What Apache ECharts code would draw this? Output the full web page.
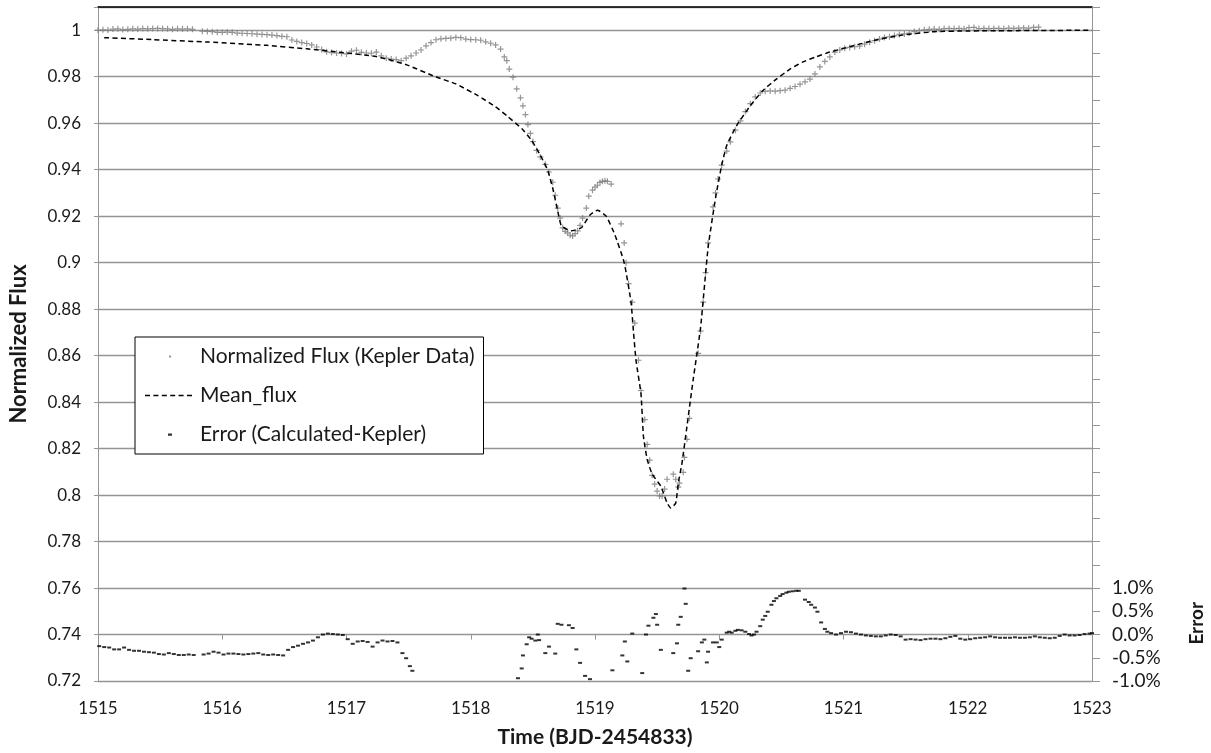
<!DOCTYPE html>
<html>
<head>
<meta charset="utf-8">
<script src="https://cdn.jsdelivr.net/npm/echarts@6/dist/echarts.min.js"></script>
<style>html,body{margin:0;padding:0;background:#fff}#c{width:1211px;height:753px}</style>
</head>
<body>
<div id="c"></div>
<script>
// ---- data ----
const xTicks = [1515, 1523, 1];          // min, max, step of time axis
const fluxTicks = [0.72, 1.01, 0.02];    // left axis range
const errTicks = [-1, 13.5, 0.5];        // right axis range (percent)

// Normalized Flux (Kepler Data): [time, flux]
const keplerFlux = [
[1515.00,1.0001],[1515.04,1.0002],[1515.08,1.0001],[1515.12,1.0005],[1515.16,1.0006],[1515.20,1.0003],
[1515.24,1.0004],[1515.28,1.0006],[1515.32,1.0005],[1515.36,1.0007],[1515.40,1.0006],[1515.44,1.0007],
[1515.48,1.0008],[1515.52,1.0007],[1515.56,1.0006],[1515.60,1.0004],[1515.64,1.0006],[1515.68,1.0005],
[1515.72,1.0006],[1515.76,1.0004],[1515.84,0.9996],[1515.88,0.9995],[1515.92,0.9994],[1515.96,0.9991],
[1516.00,0.9991],[1516.04,0.9992],[1516.08,0.9991],[1516.12,0.9988],[1516.16,0.9987],[1516.20,0.9986],
[1516.24,0.9985],[1516.28,0.9983],[1516.32,0.9982],[1516.36,0.9981],[1516.40,0.9979],[1516.44,0.9977],
[1516.48,0.9974],[1516.52,0.9972],[1516.56,0.9958],[1516.60,0.9952],[1516.64,0.9947],[1516.68,0.9943],
[1516.72,0.9937],[1516.76,0.9928],[1516.80,0.9917],[1516.84,0.9907],[1516.88,0.9904],[1516.92,0.9902],
[1516.96,0.9900],[1517.00,0.9898],[1517.04,0.9910],[1517.08,0.9914],[1517.12,0.9905],[1517.16,0.9902],
[1517.20,0.9901],[1517.24,0.9906],[1517.28,0.9890],[1517.32,0.9880],[1517.36,0.9876],[1517.40,0.9874],
[1517.44,0.9869],[1517.48,0.9880],[1517.52,0.9890],[1517.56,0.9902],[1517.60,0.9915],[1517.64,0.9933],
[1517.68,0.9947],[1517.72,0.9959],[1517.76,0.9963],[1517.80,0.9965],[1517.84,0.9966],[1517.88,0.9969],
[1517.92,0.9968],[1517.96,0.9962],[1518.00,0.9960],[1518.04,0.9959],[1518.08,0.9957],[1518.12,0.9950],
[1518.16,0.9944],[1518.20,0.9937],[1518.24,0.9919],[1518.27,0.9885],[1518.29,0.9869],[1518.31,0.9833],
[1518.34,0.9798],[1518.37,0.9748],[1518.40,0.9709],[1518.42,0.9675],[1518.44,0.9637],[1518.46,0.9594],
[1518.48,0.9556],[1518.50,0.9521],[1518.53,0.9483],[1518.56,0.9455],[1518.60,0.9423],[1518.63,0.9390],
[1518.66,0.9346],[1518.68,0.9290],[1518.70,0.9235],[1518.72,0.9192],[1518.74,0.9150],[1518.76,0.9135],
[1518.78,0.9128],[1518.80,0.9118],[1518.82,0.9115],[1518.84,0.9125],[1518.86,0.9137],[1518.88,0.9160],
[1518.90,0.9192],[1518.93,0.9235],[1518.95,0.9286],[1518.98,0.9312],[1519.00,0.9325],[1519.02,0.9333],
[1519.04,0.9345],[1519.06,0.9350],[1519.08,0.9352],[1519.10,0.9350],[1519.13,0.9338],
[1519.21,0.9167],[1519.235,0.9085],[1519.25,0.9000],[1519.27,0.8910],[1519.30,0.8830],[1519.32,0.8740],
[1519.35,0.8580],[1519.37,0.8450],[1519.40,0.8325],[1519.42,0.8218],[1519.44,0.8150],[1519.46,0.8085],
[1519.48,0.8047],[1519.50,0.8017],[1519.52,0.7996],[1519.54,0.7996],[1519.56,0.8026],[1519.58,0.8068],
[1519.63,0.8090],[1519.65,0.8068],[1519.67,0.8034],[1519.68,0.8051],[1519.71,0.8098],[1519.72,0.8162],
[1519.74,0.8240],[1519.76,0.8330],[1519.83,0.8610],[1519.85,0.8705],[1519.87,0.8830],[1519.89,0.8957],
[1519.91,0.9085],[1519.95,0.9240],[1519.97,0.9300],[1519.99,0.9360],[1520.02,0.9420],[1520.06,0.9480],
[1520.09,0.9520],[1520.13,0.9570],[1520.17,0.9610],[1520.21,0.9650],[1520.25,0.9684],[1520.29,0.9713],
[1520.33,0.9730],[1520.37,0.9737],[1520.41,0.9739],[1520.45,0.9738],[1520.49,0.9740],[1520.53,0.9742],
[1520.57,0.9750],[1520.61,0.9758],[1520.65,0.9768],[1520.69,0.9778],[1520.73,0.9790],[1520.77,0.9812],
[1520.81,0.9842],[1520.85,0.9866],[1520.89,0.9885],[1520.93,0.9906],[1520.97,0.9915],[1521.01,0.9923],
[1521.05,0.9926],[1521.09,0.9929],[1521.13,0.9932],[1521.17,0.9940],[1521.21,0.9948],[1521.25,0.9955],
[1521.29,0.9962],[1521.33,0.9969],[1521.37,0.9972],[1521.41,0.9977],[1521.45,0.9982],[1521.49,0.9984],
[1521.53,0.9988],[1521.57,0.9995],[1521.61,0.9998],[1521.65,1.0002],[1521.69,1.0004],[1521.73,1.0005],
[1521.77,1.0004],[1521.81,1.0007],[1521.85,1.0008],[1521.89,1.0007],[1521.93,1.0008],[1521.97,1.0006],
[1522.01,1.0011],[1522.05,1.0012],[1522.09,1.0007],[1522.13,1.0008],[1522.17,1.0007],[1522.21,1.0008],
[1522.25,1.0008],[1522.29,1.0007],[1522.33,1.0009],[1522.37,1.0008],[1522.41,1.0009],[1522.45,1.0010],
[1522.49,1.0009],[1522.53,1.0012],[1522.57,1.0013]
];

// Mean_flux: [time, flux]
const meanFlux = [
[1515.05,0.9968],[1515.43,0.9960],[1515.89,0.9949],[1516.36,0.9935],[1516.68,0.9920],[1516.95,0.9905],
[1517.24,0.9887],[1517.48,0.9852],[1517.72,0.9799],[1517.88,0.9769],[1518.06,0.9718],[1518.20,0.9670],
[1518.30,0.9628],[1518.41,0.9577],[1518.49,0.9526],[1518.56,0.9462],[1518.62,0.9397],[1518.66,0.9320],
[1518.70,0.9222],[1518.73,0.9158],[1518.81,0.9137],[1518.89,0.9150],[1518.96,0.9205],[1519.02,0.9226],
[1519.09,0.9200],[1519.16,0.9120],[1519.235,0.9000],[1519.29,0.8830],[1519.31,0.8700],[1519.33,0.8580],
[1519.37,0.8436],[1519.39,0.8252],[1519.42,0.8154],[1519.46,0.8090],[1519.53,0.8038],[1519.58,0.7966],
[1519.61,0.7944],[1519.65,0.7966],[1519.67,0.8051],[1519.70,0.8137],[1519.74,0.8295],[1519.79,0.8496],
[1519.85,0.8722],[1519.91,0.9064],[1519.97,0.9278],[1520.02,0.9420],[1520.06,0.9504],[1520.14,0.9590],
[1520.25,0.9675],[1520.35,0.9740],[1520.46,0.9790],[1520.57,0.9833],[1520.67,0.9863],[1520.77,0.9884],
[1520.89,0.9906],[1521.07,0.9932],[1521.25,0.9957],[1521.47,0.9979],[1521.73,0.9994],[1522.00,0.9997],
[1523.00,1.0000]
];

// Error (Calculated-Kepler), percent: [time, error%]
const errorPct = [
[1515.01,-0.25],[1515.05,-0.27],[1515.09,-0.28],[1515.13,-0.32],[1515.17,-0.32],[1515.21,-0.28],
[1515.25,-0.33],[1515.29,-0.35],[1515.33,-0.35],[1515.37,-0.37],[1515.41,-0.38],[1515.45,-0.39],
[1515.49,-0.42],[1515.53,-0.43],[1515.57,-0.40],[1515.61,-0.42],[1515.65,-0.44],[1515.69,-0.44],
[1515.73,-0.43],[1515.77,-0.44],[1515.85,-0.43],[1515.89,-0.41],[1515.93,-0.37],[1515.97,-0.39],
[1516.01,-0.43],[1516.05,-0.41],[1516.09,-0.41],[1516.13,-0.42],[1516.17,-0.43],[1516.21,-0.42],
[1516.25,-0.41],[1516.29,-0.40],[1516.33,-0.43],[1516.37,-0.44],[1516.41,-0.43],[1516.45,-0.44],
[1516.49,-0.45],[1516.53,-0.33],[1516.57,-0.27],[1516.61,-0.24],[1516.65,-0.20],[1516.69,-0.17],
[1516.73,-0.13],[1516.77,-0.06],[1516.81,0.00],[1516.85,0.02],[1516.89,0.01],[1516.93,0.00],
[1516.97,-0.01],[1517.01,-0.10],[1517.05,-0.20],[1517.09,-0.15],[1517.13,-0.14],[1517.17,-0.16],
[1517.21,-0.26],[1517.25,-0.17],[1517.29,-0.13],[1517.33,-0.15],[1517.37,-0.14],[1517.41,-0.17],
[1517.45,-0.40],[1517.48,-0.51],[1517.51,-0.68],[1517.53,-0.78],
[1518.38,-0.94],[1518.41,-0.73],[1518.42,-0.45],[1518.45,-0.21],[1518.47,-0.06],[1518.49,-0.09],
[1518.52,-0.13],[1518.54,0.00],[1518.55,-0.12],[1518.60,-0.40],[1518.63,-0.26],[1518.68,-0.41],
[1518.70,0.23],[1518.73,0.21],[1518.79,0.20],[1518.82,0.14],[1518.85,-0.32],[1518.88,-0.61],
[1518.92,-0.89],[1518.96,-0.96],[1519.14,-0.77],[1519.22,-0.45],[1519.24,-0.15],[1519.26,-0.58],
[1519.30,0.02],[1519.38,-0.83],[1519.41,0.00],[1519.43,0.19],[1519.47,0.36],[1519.49,0.44],
[1519.50,0.21],[1519.53,-0.33],[1519.63,-0.40],[1519.66,-0.19],[1519.67,0.21],[1519.69,0.38],
[1519.72,0.99],[1519.73,0.66],[1519.75,-0.78],[1519.77,-0.51],[1519.83,-0.36],[1519.86,-0.17],
[1519.88,-0.11],[1519.90,-0.60],[1519.91,-0.37],[1519.95,-0.17],[1519.98,-0.17],[1520.00,-0.27],
[1520.02,-0.11],[1520.06,0.04],[1520.08,0.06],[1520.10,0.04],[1520.13,0.08],[1520.15,0.10],
[1520.18,0.09],[1520.21,0.06],[1520.24,0.01],[1520.26,-0.02],[1520.28,0.00],[1520.30,0.06],
[1520.33,0.18],[1520.35,0.32],[1520.37,0.40],[1520.39,0.49],[1520.42,0.64],[1520.44,0.72],
[1520.46,0.78],[1520.49,0.83],[1520.51,0.87],[1520.54,0.90],[1520.56,0.92],[1520.59,0.93],
[1520.62,0.94],[1520.64,0.94],[1520.69,0.75],[1520.72,0.70],[1520.74,0.64],[1520.77,0.58],
[1520.79,0.49],[1520.82,0.26],[1520.85,0.12],[1520.87,0.06],[1520.90,0.03],[1520.94,0.00],
[1520.98,0.03],[1521.02,0.06],[1521.06,0.05],[1521.10,0.02],[1521.14,0.00],[1521.18,-0.02],
[1521.22,-0.03],[1521.26,-0.04],[1521.30,-0.04],[1521.34,-0.02],[1521.38,0.00],[1521.42,-0.01],
[1521.46,-0.04],[1521.50,-0.11],[1521.54,-0.10],[1521.58,-0.11],[1521.62,-0.12],[1521.66,-0.10],
[1521.70,-0.09],[1521.74,-0.09],[1521.78,-0.10],[1521.82,-0.08],[1521.86,-0.05],[1521.90,-0.03],
[1521.94,-0.09],[1521.98,-0.11],[1522.02,-0.10],[1522.06,-0.08],[1522.10,-0.07],[1522.14,-0.06],
[1522.18,-0.04],[1522.22,-0.06],[1522.26,-0.07],[1522.30,-0.07],[1522.34,-0.07],[1522.38,-0.06],
[1522.42,-0.07],[1522.46,-0.07],[1522.50,-0.06],[1522.54,-0.04],[1522.58,-0.06],[1522.62,-0.07],
[1522.66,-0.08],[1522.70,-0.07],[1522.74,-0.03],[1522.78,0.00],[1522.82,-0.02],[1522.86,-0.02],
[1522.90,-0.01],[1522.94,0.01],[1522.98,0.02],[1523.00,0.03]
];

const seriesNames = ['Normalized Flux (Kepler Data)', 'Mean_flux', 'Error (Calculated-Kepler)'];
const axisTitles = ['Time (BJD-2454833)', 'Normalized Flux', 'Error'];

// ---- styling ----
const FONT = 'Lato';
const TXT = '#1a1a1a';
const GRIDC = '#959595';
const plusPath = 'path://M2,0H3V2H5V3H3V5H2V3H0V2H2Z';
const ext = 'M0,0L0.001,0Z M50,14L49.999,14Z ';
const iconDot = 'path://' + ext + 'M24,6H26V8H24Z';
const iconDash = 'path://' + ext + 'M23,6H27V8.2H23Z';
let dashes = '';
for (let k = 0; k < 6; k++) { const x0 = k * 8.4; dashes += 'M' + x0 + ',6.3H' + (x0 + 5) + 'V7.7H' + x0 + 'Z '; }
const iconLine = 'path://' + ext + dashes;

const chart = echarts.init(document.getElementById('c'), null, {renderer: 'canvas'});
chart.setOption({
  animation: false,
  backgroundColor: '#fff',
  textStyle: {fontFamily: FONT},
  grid: {left: 89, right: 119, top: 7, bottom: 67, containLabel: false},
  legend: {
    orient: 'vertical', left: 135, top: 337,
    padding: [9, 9, 9, 10], itemGap: 18, itemWidth: 50, itemHeight: 20,
    borderColor: '#000', borderWidth: 1, backgroundColor: '#fff',
    textStyle: {fontFamily: FONT, fontSize: 21, color: TXT},
    data: [
      {name: seriesNames[0], icon: iconDot},
      {name: seriesNames[1], icon: iconLine},
      {name: seriesNames[2], icon: iconDash}
    ]
  },
  xAxis: [{
    type: 'value', min: xTicks[0], max: xTicks[1], interval: xTicks[2],
    name: axisTitles[0], nameLocation: 'middle', nameGap: 46,
    nameTextStyle: {fontFamily: FONT, fontSize: 21, fontWeight: 'bold', color: TXT},
    axisLine: {show: true, lineStyle: {color: GRIDC, width: 1}},
    axisTick: {show: true, length: 5, lineStyle: {color: GRIDC}},
    axisLabel: {fontFamily: FONT, fontSize: 17, color: TXT, margin: 19,
      formatter: v => String(v)},
    splitLine: {show: false}
  }, {
    type: 'value', position: 'top', min: xTicks[0], max: xTicks[1],
    axisLine: {show: true, lineStyle: {color: '#000', width: 1.5}},
    axisTick: {show: false}, axisLabel: {show: false}, splitLine: {show: false}
  }],
  yAxis: [{
    type: 'value', min: fluxTicks[0], max: fluxTicks[1], interval: fluxTicks[2],
    name: axisTitles[1], nameLocation: 'middle', nameGap: 68,
    nameTextStyle: {fontFamily: FONT, fontSize: 22, fontWeight: 'bold', color: TXT},
    axisLine: {show: true, lineStyle: {color: GRIDC, width: 1}},
    axisTick: {show: true, length: 4, lineStyle: {color: GRIDC}},
    axisLabel: {fontFamily: FONT, fontSize: 17, color: TXT, margin: 17,
      formatter: v => v > 1.005 ? '' : String(parseFloat(v.toFixed(2)))},
    splitLine: {show: true, lineStyle: {color: GRIDC, width: 1.3}}
  }, {
    type: 'value', position: 'right', min: errTicks[0], max: errTicks[1], interval: errTicks[2],
    axisLine: {show: true, lineStyle: {color: GRIDC, width: 1}},
    axisTick: {show: true, length: 8, lineStyle: {color: GRIDC}},
    axisLabel: {fontFamily: FONT, fontSize: 19, color: TXT, margin: 20,
      formatter: v => v <= 1.001 ? v.toFixed(1) + '%' : ''},
    splitLine: {show: false}
  }],
  graphic: [{
    type: 'text', left: 1187, top: 602, rotation: Math.PI / 2,
    style: {text: axisTitles[2], fontFamily: FONT, fontSize: 19, fontWeight: 'bold', fill: TXT}
  }],
  series: [{
    name: seriesNames[0], type: 'scatter', data: keplerFlux,
    symbol: plusPath, symbolSize: 6, itemStyle: {color: '#7a7a7a'}, z: 2
  }, {
    name: seriesNames[1], type: 'line', data: meanFlux, symbol: 'none', smooth: 0.15,
    lineStyle: {color: '#000', width: 1.5, type: [5, 3.4]}, itemStyle: {color: '#000'}, z: 3
  }, {
    name: seriesNames[2], type: 'scatter', yAxisIndex: 1, data: errorPct,
    symbol: 'rect', symbolSize: [4, 2], itemStyle: {color: '#000'}, z: 4
  }]
});
</script>
</body>
</html>
